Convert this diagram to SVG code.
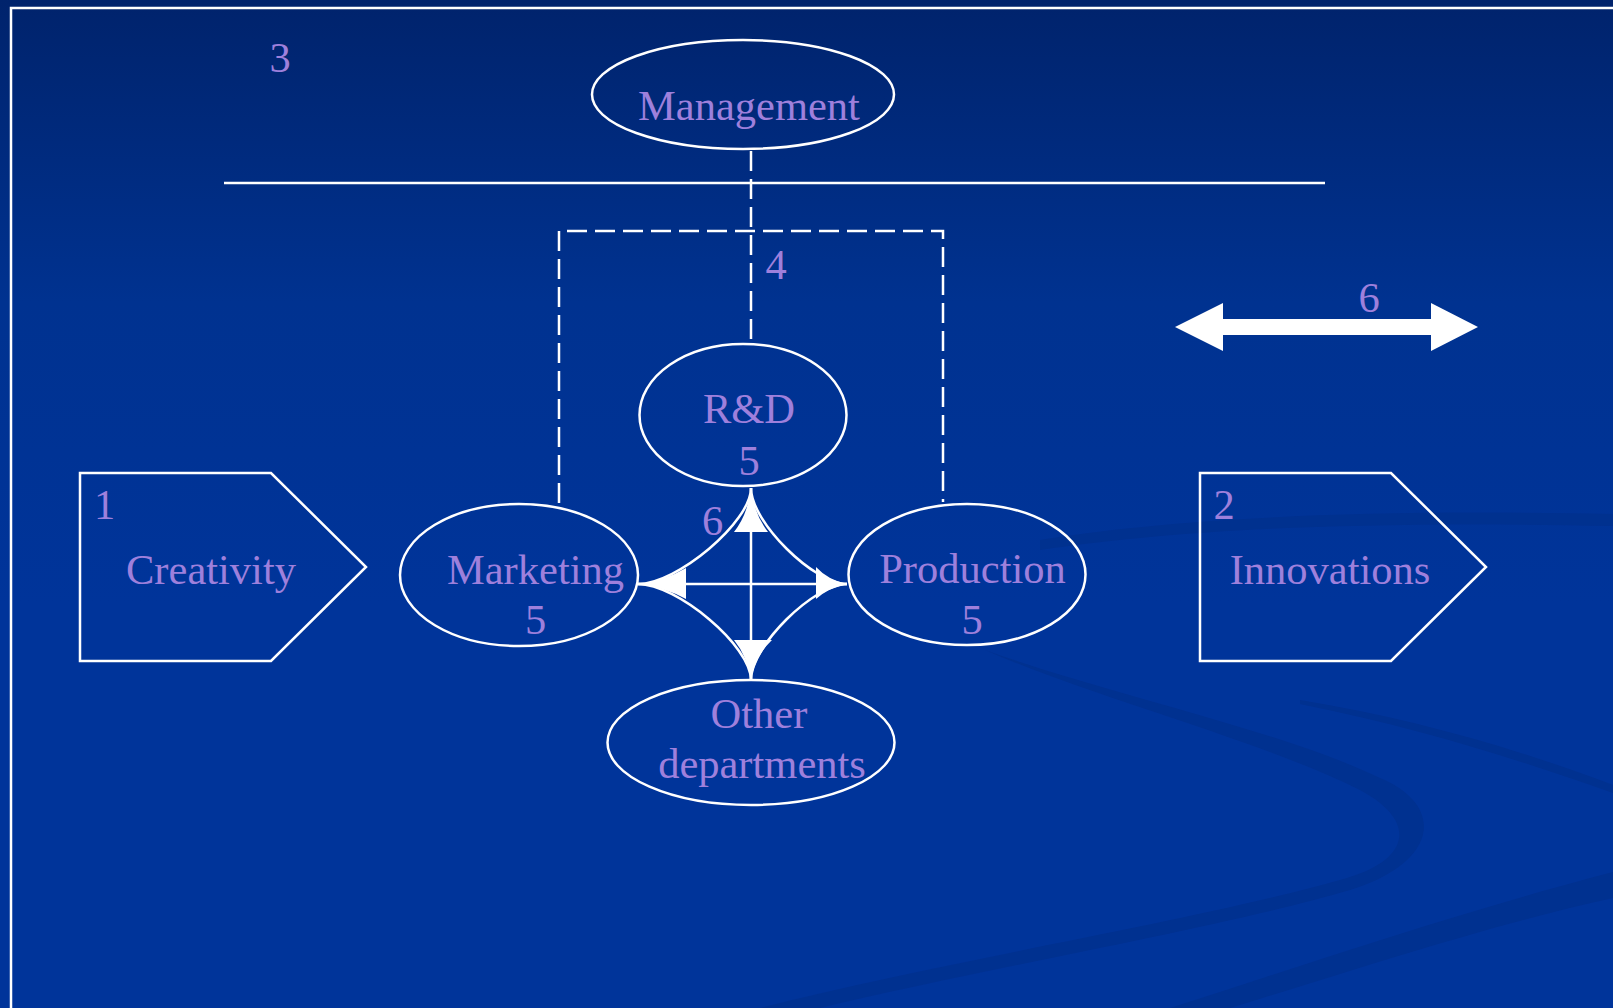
<svg xmlns="http://www.w3.org/2000/svg" width="1613" height="1008" viewBox="0 0 1613 1008">
<defs>
<linearGradient id="bg" x1="0" y1="0" x2="0" y2="1">
<stop offset="0" stop-color="#00236c"/>
<stop offset="0.3" stop-color="#003290"/>
<stop offset="0.6" stop-color="#00349a"/>
<stop offset="1" stop-color="#00349a"/>
</linearGradient>
<style>
.t{font-family:"Liberation Serif","Times New Roman",serif;font-size:42.5px;fill:#9e80dc;text-anchor:middle}
.s{fill:none;stroke:#ffffff;stroke-width:2.5}
.d{fill:none;stroke:#ffffff;stroke-width:2.5;stroke-dasharray:20 8}
.w{fill:#ffffff;stroke:none}
.sw{fill:#00318f;stroke:none}
</style>
</defs>
<rect width="1613" height="1008" fill="url(#bg)"/>
<g id="background-swooshes" opacity="0.9">
<path class="sw" d="M1040,540 C1150,522 1330,508 1613,514 L1613,526 C1330,520 1160,532 1040,550 Z"/>
<path class="sw" d="M985,650 C1100,700 1260,740 1360,790 C1420,822 1410,862 1340,880 C1200,920 950,960 760,1008 L820,1008 C1000,965 1220,928 1350,890 C1440,862 1445,805 1380,778 C1280,730 1110,695 985,650 Z"/>
<path class="sw" d="M1613,872 C1450,915 1320,960 1170,1008 L1230,1008 C1370,965 1490,925 1613,898 Z"/>
<path class="sw" d="M1300,700 C1420,720 1520,750 1613,785 L1613,793 C1520,760 1420,728 1300,704 Z"/>
</g>
<rect x="11" y="8" width="1700" height="1100" fill="none" stroke="#ffffff" stroke-width="2.5"/>
<g id="connectors">
<line class="s" x1="224" y1="183" x2="1325" y2="183"/>
<line class="d" x1="751" y1="151" x2="751" y2="343"/>
<polyline class="d" points="559,503 559,231 943,231 943,502"/>
<line class="s" x1="638" y1="584" x2="847" y2="584"/>
<line class="s" x1="751" y1="488" x2="751" y2="680"/>
<path class="s" d="M751,488 C751,522 677,584 638,584"/>
<path class="s" d="M751,488 C751,522 814,584 847,584"/>
<path class="s" d="M638,584 C677,584 751,646 751,680"/>
<path class="s" d="M847,584 C814,584 751,646 751,680"/>
<path class="w" d="M751,488 Q748,514 734,532 L768,532 Q754,514 751,488 Z"/>
<path class="w" d="M638,584 Q664,581 686,568 L686,599 Q664,587 638,584 Z"/>
<path class="w" d="M847,584 Q828,580 816,567 L816,599 Q828,588 847,584 Z"/>
<path class="w" d="M751,680 Q747,656 734,640 L772,640 Q755,656 751,680 Z"/>
<polygon class="w" points="1175,327 1223,303 1223,319 1431,319 1431,303 1478,327 1431,351 1431,335 1223,335 1223,351"/>
</g>
<g id="label-3"><text class="t" x="280" y="72">3</text></g>
<g id="label-4"><text class="t" x="776" y="279">4</text></g>
<g id="label-6-arrow"><text class="t" x="1369" y="312">6</text></g>
<g id="label-6-center"><text class="t" x="712.5" y="535">6</text></g>
<g id="management">
<ellipse class="s" cx="743" cy="94.5" rx="151" ry="54.5"/>
<text class="t" x="749" y="120">Management</text>
</g>
<g id="rd">
<ellipse class="s" cx="743" cy="415" rx="103.5" ry="71"/>
<text class="t" x="749" y="423">R&amp;D</text>
<text class="t" x="749" y="475">5</text>
</g>
<g id="marketing">
<ellipse class="s" cx="519" cy="575" rx="119" ry="71"/>
<text class="t" x="535.5" y="584">Marketing</text>
<text class="t" x="535.5" y="634">5</text>
</g>
<g id="production">
<ellipse class="s" cx="967" cy="574.5" rx="118.5" ry="70.5"/>
<text class="t" x="972.5" y="583">Production</text>
<text class="t" x="972" y="634">5</text>
</g>
<g id="other-departments">
<ellipse class="s" cx="751" cy="742.5" rx="143.5" ry="62.5"/>
<text class="t" x="759" y="728">Other</text>
<text class="t" x="762" y="778">departments</text>
</g>
<g id="creativity">
<polygon class="s" points="80,473 271,473 366,567 271,661 80,661"/>
<text class="t" x="104.5" y="519">1</text>
<text class="t" x="211" y="584">Creativity</text>
</g>
<g id="innovations">
<polygon class="s" points="1200,473 1391,473 1486,567 1391,661 1200,661"/>
<text class="t" x="1224" y="519">2</text>
<text class="t" x="1330" y="584">Innovations</text>
</g>
</svg>
